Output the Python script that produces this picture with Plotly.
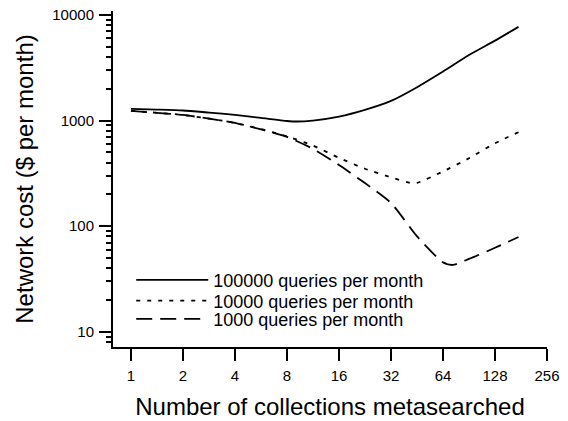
import plotly.graph_objects as go

# Data
x_solid = [1, 1.41, 2, 2.83, 4, 5.66, 8, 9.1, 11.3, 16, 22.6, 32, 45.3, 64, 90.5, 128, 175]
y_solid = [1290, 1270, 1245, 1190, 1133, 1060, 991, 980, 1000, 1090, 1262, 1535, 2070, 2910, 4170, 5710, 7700]

x_dot = [1, 1.41, 2, 2.83, 4, 5.66, 8, 11.3, 16, 22.6, 32, 42, 45.3, 64, 90.5, 128, 175]
y_dot = [1235, 1185, 1130, 1045, 950, 830, 710, 580, 444, 350, 290, 256, 257, 330, 440, 610, 776]

x_dash = [1, 1.41, 2, 2.83, 4, 5.66, 8, 11.3, 16, 22.6, 32, 45.3, 64, 73, 90.5, 128, 175]
y_dash = [1235, 1185, 1130, 1045, 950, 825, 700, 540, 380, 256, 166, 80, 45.5, 43, 49, 62.5, 79]

names = ["100000 queries per month", "10000 queries per month", "1000 queries per month"]

x_ticks = [1, 2, 4, 8, 16, 32, 64, 128, 256]
x_ticklabels = ["1", "2", "4", "8", "16", "32", "64", "128", "256"]
y_ticks = [10, 100, 1000, 10000]
y_ticklabels = ["10", "100", "1000", "10000"]
y_minor = [k * 10 ** n for n in range(0, 4) for k in range(2, 10)]

FONT = "Liberation Sans, Arial, sans-serif"
LINE = dict(color="black", width=1.8, shape="spline", smoothing=0.6)

fig = go.Figure()
fig.add_trace(go.Scatter(x=x_solid, y=y_solid, mode="lines", name=names[0],
                         line=dict(LINE), legend="legend"))
fig.add_trace(go.Scatter(x=x_dot, y=y_dot, mode="lines", name=names[1],
                         line=dict(LINE, dash="4px,7px"), legend="legend2"))
fig.add_trace(go.Scatter(x=x_dash, y=y_dash, mode="lines", name=names[2],
                         line=dict(LINE, dash="16px,8px"), legend="legend3"))

# the page has an 8px body margin, so the figure is sized to the rest of the window
W, H = 560, 413
ML, MR, MT, MB = 105, 21, 3, 74

legend_common = dict(x=0.042, xanchor="left", yanchor="middle",
                     font=dict(size=18, family=FONT), bgcolor="rgba(0,0,0,0)",
                     itemwidth=72)

fig.update_layout(
    width=W, height=H,
    margin=dict(l=ML, r=MR, t=MT, b=MB),
    paper_bgcolor="white", plot_bgcolor="white",
    font=dict(family=FONT, color="black"),
    showlegend=True,
    legend=dict(legend_common, y=0.199),
    legend2=dict(legend_common, y=0.137),
    legend3=dict(legend_common, y=0.083),
    xaxis=dict(type="log", range=[-0.104, 2.408], tickvals=x_ticks, ticktext=x_ticklabels,
               automargin=False, ticklabeloverflow="allow",
               showgrid=False, zeroline=False, showline=True, linecolor="black", linewidth=2,
               ticks="outside", ticklen=12, tickwidth=2, tickcolor="black",
               tickfont=dict(size=15, family=FONT), ticklabelstandoff=2,
               title=dict(text="Number of collections metasearched", font=dict(size=24, family=FONT), standoff=15)),
    yaxis=dict(type="log", range=[0.857, 4.037], tickvals=y_ticks, ticktext=y_ticklabels,
               automargin=False, ticklabeloverflow="allow",
               showgrid=False, zeroline=False, showline=True, linecolor="black", linewidth=2,
               ticks="outside", ticklen=12, tickwidth=2, tickcolor="black",
               tickfont=dict(size=15, family=FONT), ticklabelstandoff=2,
               minor=dict(tickvals=y_minor, ticks="outside", ticklen=5, tickwidth=2, tickcolor="black", showgrid=False),
               title=dict(text="Network cost ($ per month)", font=dict(size=24, family=FONT), standoff=12)),
)

fig.write_html("out.html")
